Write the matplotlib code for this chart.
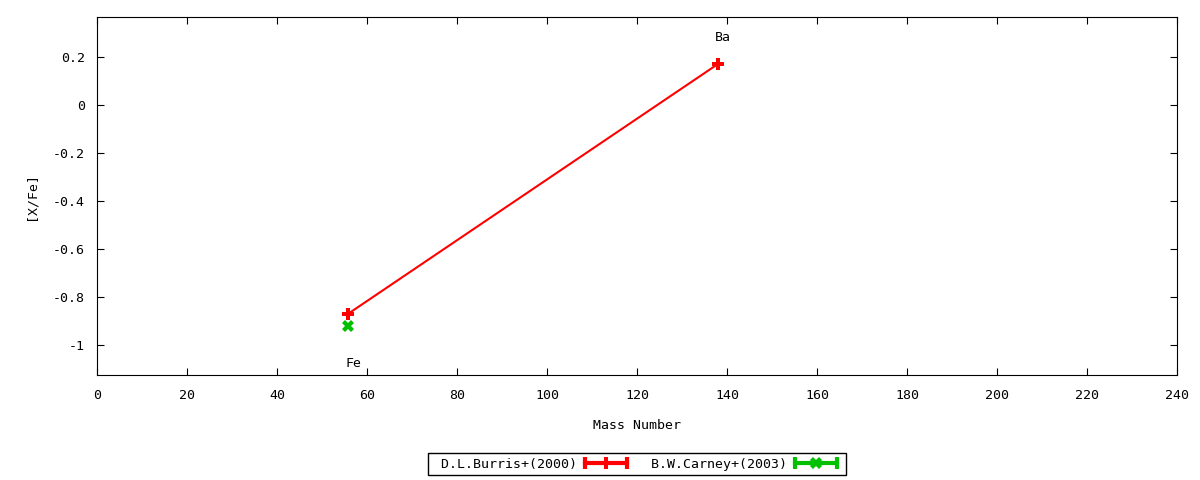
import matplotlib
matplotlib.use("Agg")
import matplotlib.pyplot as plt
from matplotlib.lines import Line2D
from matplotlib.legend_handler import HandlerLine2D, HandlerTuple
from matplotlib.ticker import FuncFormatter, MultipleLocator

# data
burris_mass = [55.8, 137.9]
burris_xfe = [-0.87, 0.17]
carney_mass = [55.8]
carney_xfe = [-0.92]
element_names = ["Fe", "Ba"]
element_mass = [55.8, 137.9]
series_names = ["D.L.Burris+(2000)", "B.W.Carney+(2003)"]

RED = "#ff0000"
GREEN = "#00c000"

plt.rcParams["font.family"] = ["DejaVu Sans Mono"]
plt.rcParams["font.size"] = 9.5


def main():
    fig = plt.figure(figsize=(12, 4.8), dpi=100)
    ax = fig.add_axes([97 / 1200, 1 - 375 / 480, 1080 / 1200, 358 / 480])

    ax.plot(burris_mass, burris_xfe, color=RED, lw=1.5, marker="P",
            ms=9, mew=0, zorder=3)
    ax.plot(carney_mass, carney_xfe, color=GREEN, lw=1.5, ls="",
            marker="X", ms=9, mew=0, zorder=3)

    # element labels: Ba above its point, Fe below the lowest point
    all_y = burris_xfe + carney_xfe
    ax.text(element_mass[1] + 1.2, burris_xfe[1] + 0.11, element_names[1],
            ha="center", va="center")
    ax.text(element_mass[0] + 1.2, min(all_y) - 0.155, element_names[0],
            ha="center", va="center")

    ax.set_xlim(0, 240)
    ax.set_ylim(-1.125, 0.367)
    ax.xaxis.set_major_locator(MultipleLocator(20))
    ax.yaxis.set_major_locator(MultipleLocator(0.2))
    ax.yaxis.set_major_formatter(FuncFormatter(lambda v, p: "%g" % round(v, 6)))
    ax.tick_params(direction="in", top=True, right=True, length=5, width=0.8)
    ax.tick_params(axis="x", pad=10)
    ax.tick_params(axis="y", pad=8.5)
    for s in ax.spines.values():
        s.set_linewidth(0.8)

    ax.set_xlabel("Mass Number", labelpad=12)
    ax.set_ylabel("[X/Fe]", labelpad=11.5)

    # legend samples in gnuplot errorbar style
    handles = []
    hmap = {}
    for color, mk in ((RED, "P"), (GREEN, "X")):
        caps = Line2D([], [], color=color, lw=3, marker="|", ms=8, mew=3)
        mark = Line2D([], [], color=color, ls="", marker=mk, ms=9, mew=0)
        hmap[caps] = HandlerLine2D(numpoints=2)
        hmap[mark] = HandlerLine2D(numpoints=1)
        handles.append((caps, mark))
    hmap[tuple] = HandlerTuple(ndivide=1)
    labels = [" " + s for s in series_names]
    leg = fig.legend(handles, labels, handler_map=hmap, ncol=2,
                     loc="lower center", bbox_to_anchor=(637 / 1200, 0.01),
                     markerfirst=False, fancybox=False, framealpha=1,
                     edgecolor="black", handlelength=3.85, columnspacing=0.85,
                     borderpad=0.35, handletextpad=0.3, borderaxespad=0)
    leg.get_frame().set_linewidth(1)

    fig.savefig("out.png", dpi=100)


if __name__ == "__main__":
    main()
